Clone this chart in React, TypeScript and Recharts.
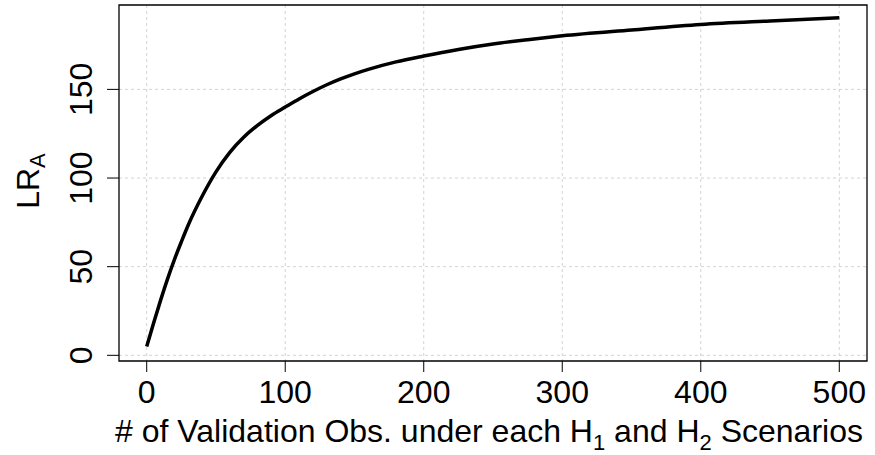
import React from 'react';
import { LineChart, Line, XAxis, YAxis, CartesianGrid, ReferenceArea, Label } from 'recharts';

const obsCounts = [0, 5, 10, 15, 20, 25, 30, 40, 50, 60, 70, 80, 90, 100, 110, 120, 130, 140, 150, 160, 180, 200, 225, 250, 275, 300, 350, 400, 450, 500];
const lrValues = [5, 18.2, 31, 43, 54, 64, 73.5, 89.7, 103.5, 114.5, 123, 129.7, 135.3, 140, 144.6, 148.8, 152.6, 155.9, 158.8, 161.3, 165.5, 168.8, 172.5, 175.6, 178, 180.2, 183.5, 186.6, 188.6, 190.4];
const xTicks = [0, 100, 200, 300, 400, 500];
const yTicks = [0, 50, 100, 150];

const data = obsCounts.map((n, i) => ({ n, lr: lrValues[i] }));

const FONT = '"Liberation Sans", Arial, sans-serif';

const XTick = (props: any) => {
  const { x, y, payload } = props;
  return (
    <text x={x} y={y + 31} textAnchor="middle" fontSize={32} fontFamily={FONT} fill="#000">
      {payload.value}
    </text>
  );
};

const YTick = (props: any) => {
  const { y, payload } = props;
  const bx = 92;
  return (
    <text
      x={bx}
      y={y}
      textAnchor="middle"
      fontSize={32}
      fontFamily={FONT}
      fill="#000"
      transform={`rotate(-90, ${bx}, ${y})`}
    >
      {payload.value}
    </text>
  );
};

const XTitle = () => (
  <text x={489} y={442} textAnchor="middle" fontSize={32} fontFamily={FONT} fill="#000">
    # of Validation Obs. under each H
    <tspan dy={8} fontSize={22}>1</tspan>
    <tspan dy={-8}> and H</tspan>
    <tspan dy={8} fontSize={22}>2</tspan>
    <tspan dy={-8}> Scenarios</tspan>
  </text>
);

const YTitle = () => (
  <text
    x={39}
    y={181}
    textAnchor="middle"
    fontSize={32}
    fontFamily={FONT}
    fill="#000"
    transform="rotate(-90, 39, 181)"
  >
    LR
    <tspan dy={6} fontSize={22}>A</tspan>
  </text>
);

export default function App() {
  return (
    <div style={{ position: 'absolute', left: 0, top: 0, background: '#fff' }}>
      <LineChart width={875} height={455} data={data} margin={{ top: 5, right: 8, left: 0, bottom: 0 }}>
        <CartesianGrid
          stroke="#d3d3d3"
          strokeDasharray="3 3"
          horizontalValues={yTicks}
          verticalValues={xTicks}
        />
        <XAxis
          dataKey="n"
          type="number"
          domain={[-20, 520]}
          ticks={xTicks}
          allowDataOverflow
          height={94}
          axisLine={false}
          tickSize={11}
          tickMargin={0}
          tickLine={{ stroke: '#000' }}
          tick={<XTick />}
        >
          <Label content={<XTitle />} />
        </XAxis>
        <YAxis
          type="number"
          domain={[-3.2, 197.6]}
          ticks={yTicks}
          allowDataOverflow
          width={119}
          axisLine={false}
          tickSize={12}
          tickMargin={0}
          tickLine={{ stroke: '#000' }}
          tick={<YTick />}
        >
          <Label content={<YTitle />} />
        </YAxis>
        <ReferenceArea x1={-20} x2={520} y1={-3.2} y2={197.6} fill="none" stroke="#000" strokeWidth={1.3} />
        <Line
          type="monotone"
          dataKey="lr"
          stroke="#000"
          strokeWidth={3.5}
          dot={false}
          isAnimationActive={false}
        />
      </LineChart>
    </div>
  );
}
